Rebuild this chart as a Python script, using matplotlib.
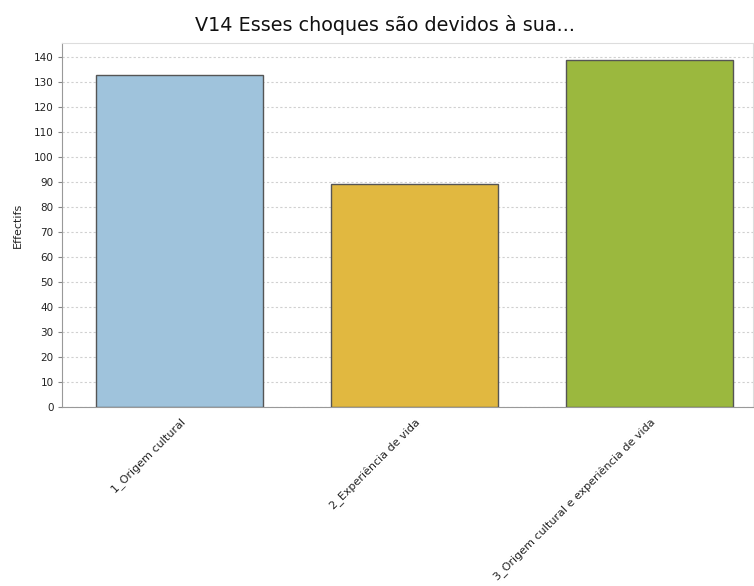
import matplotlib.pyplot as plt

categories = ['1_Origem cultural', '2_Experiência de vida', '3_Origem cultural e experiência de vida']
counts = [133, 89, 139]
colors = ['#9fc3dc', '#e1b840', '#9bb83e']
yticks = list(range(0, 141, 10))

fig = plt.figure(figsize=(7.54, 5.86), dpi=100)
ax = fig.add_axes([0.0822, 0.3055, 0.9165, 0.6211])

x = range(len(categories))
ax.bar(x, counts, width=0.71, color=colors, edgecolor='#555555', linewidth=1.0, zorder=3)

ax.set_xlim(-0.5, 2.44)
ax.set_ylim(0, 145.6)
ax.set_yticks(yticks)
ax.set_yticklabels([str(t) for t in yticks], fontsize=7.5, color='#222222')
ax.set_xticks(list(x))
ax.set_xticklabels(categories, rotation=45, ha='right', rotation_mode='anchor',
                   fontsize=8, color='#222222')
ax.tick_params(axis='x', length=0, pad=7)
ax.tick_params(axis='y', length=3, color='#888888', pad=3)

ax.yaxis.grid(True, linestyle=(0, (2, 2)), color='#d0d0d0', linewidth=0.8, zorder=0)
for side in ['left', 'bottom']:
    ax.spines[side].set_color('#999999')
for side in ['top', 'right']:
    ax.spines[side].set_color('#dddddd')

ax.set_ylabel('Effectifs', fontsize=8, color='#222222', labelpad=8)
fig.text(0.51, 0.957, 'V14 Esses choques são devidos à sua...', ha='center', va='center',
         fontsize=13.8, color='#111111')

fig.savefig('out.png', dpi=100)
